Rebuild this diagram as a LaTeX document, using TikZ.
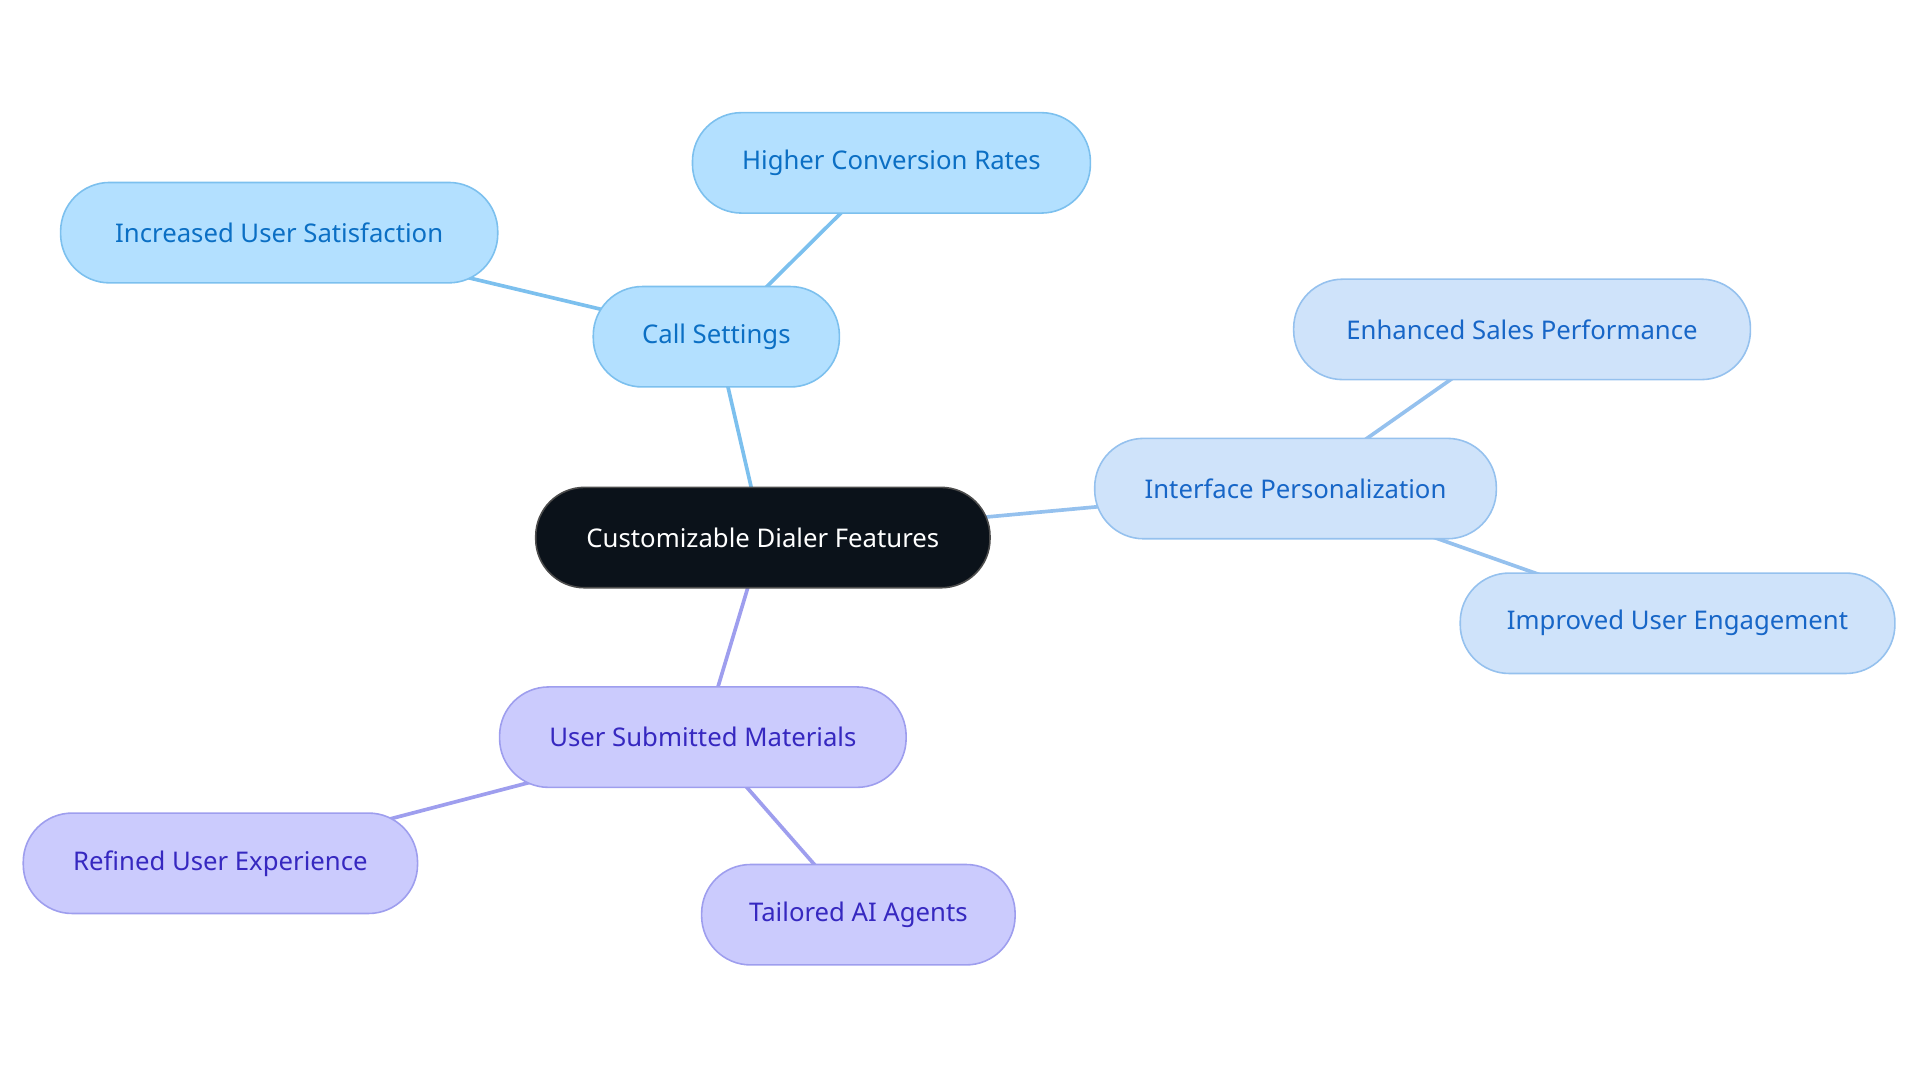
\documentclass[tikz,border=0pt]{standalone}
\usepackage{fontspec}
\setmainfont{Noto Sans}
\usetikzlibrary{backgrounds}
\definecolor{cfill}{HTML}{0B121A}
\definecolor{bfill}{HTML}{B3E0FF}\definecolor{bline}{HTML}{7CC0EE}\definecolor{btext}{HTML}{0B6FC4}
\definecolor{ifill}{HTML}{CFE3FA}\definecolor{iline}{HTML}{95C1EE}\definecolor{itext}{HTML}{1766C7}
\definecolor{pfill}{HTML}{CBCBFD}\definecolor{pline}{HTML}{9E9EEE}\definecolor{ptext}{HTML}{3628C0}
\begin{document}
\begin{tikzpicture}[x=1pt,y=-1pt,
 box/.style={rounded corners=40pt,minimum height=82pt,line width=1.3pt,inner sep=0pt,font=\fontsize{21}{25}\selectfont},
 bn/.style={box,fill=bfill,draw=bline,text=btext},
 inn/.style={box,fill=ifill,draw=iline,text=itext},
 pn/.style={box,fill=pfill,draw=pline,text=ptext},
 e/.style={line width=3pt}]
\useasboundingbox (0,0) rectangle (1568,884);
\node[box,fill=cfill,draw=black!70,text=white,minimum width=371pt] (c) at (623,439) {Customizable Dialer Features};
\node[bn,minimum width=201pt] (cs) at (585,275) {Call Settings};
\node[bn,minimum width=325pt] (hc) at (728,133) {Higher Conversion Rates};
\node[bn,minimum width=357pt] (iu) at (228,190) {Increased User Satisfaction};
\node[inn,minimum width=328pt] (ip) at (1058,399) {Interface Personalization};
\node[inn,minimum width=373pt] (es) at (1243,269) {Enhanced Sales Performance};
\node[inn,minimum width=355pt] (ie) at (1370,509) {Improved User Engagement};
\node[pn,minimum width=332pt] (us) at (574,602) {User Submitted Materials};
\node[pn,minimum width=322pt] (re) at (180,705) {Refined User Experience};
\node[pn,minimum width=256pt] (ta) at (701,747) {Tailored AI Agents};
\begin{scope}[on background layer]
\draw[e,bline] (c.center)--(cs.center) (cs.center)--(hc.center) (cs.center)--(iu.center);
\draw[e,iline] (c.center)--(ip.center) (ip.center)--(es.center) (ip.center)--(ie.center);
\draw[e,pline] (c.center)--(us.center) (us.center)--(re.center) (us.center)--(ta.center);
\end{scope}
\end{tikzpicture}
\end{document}
